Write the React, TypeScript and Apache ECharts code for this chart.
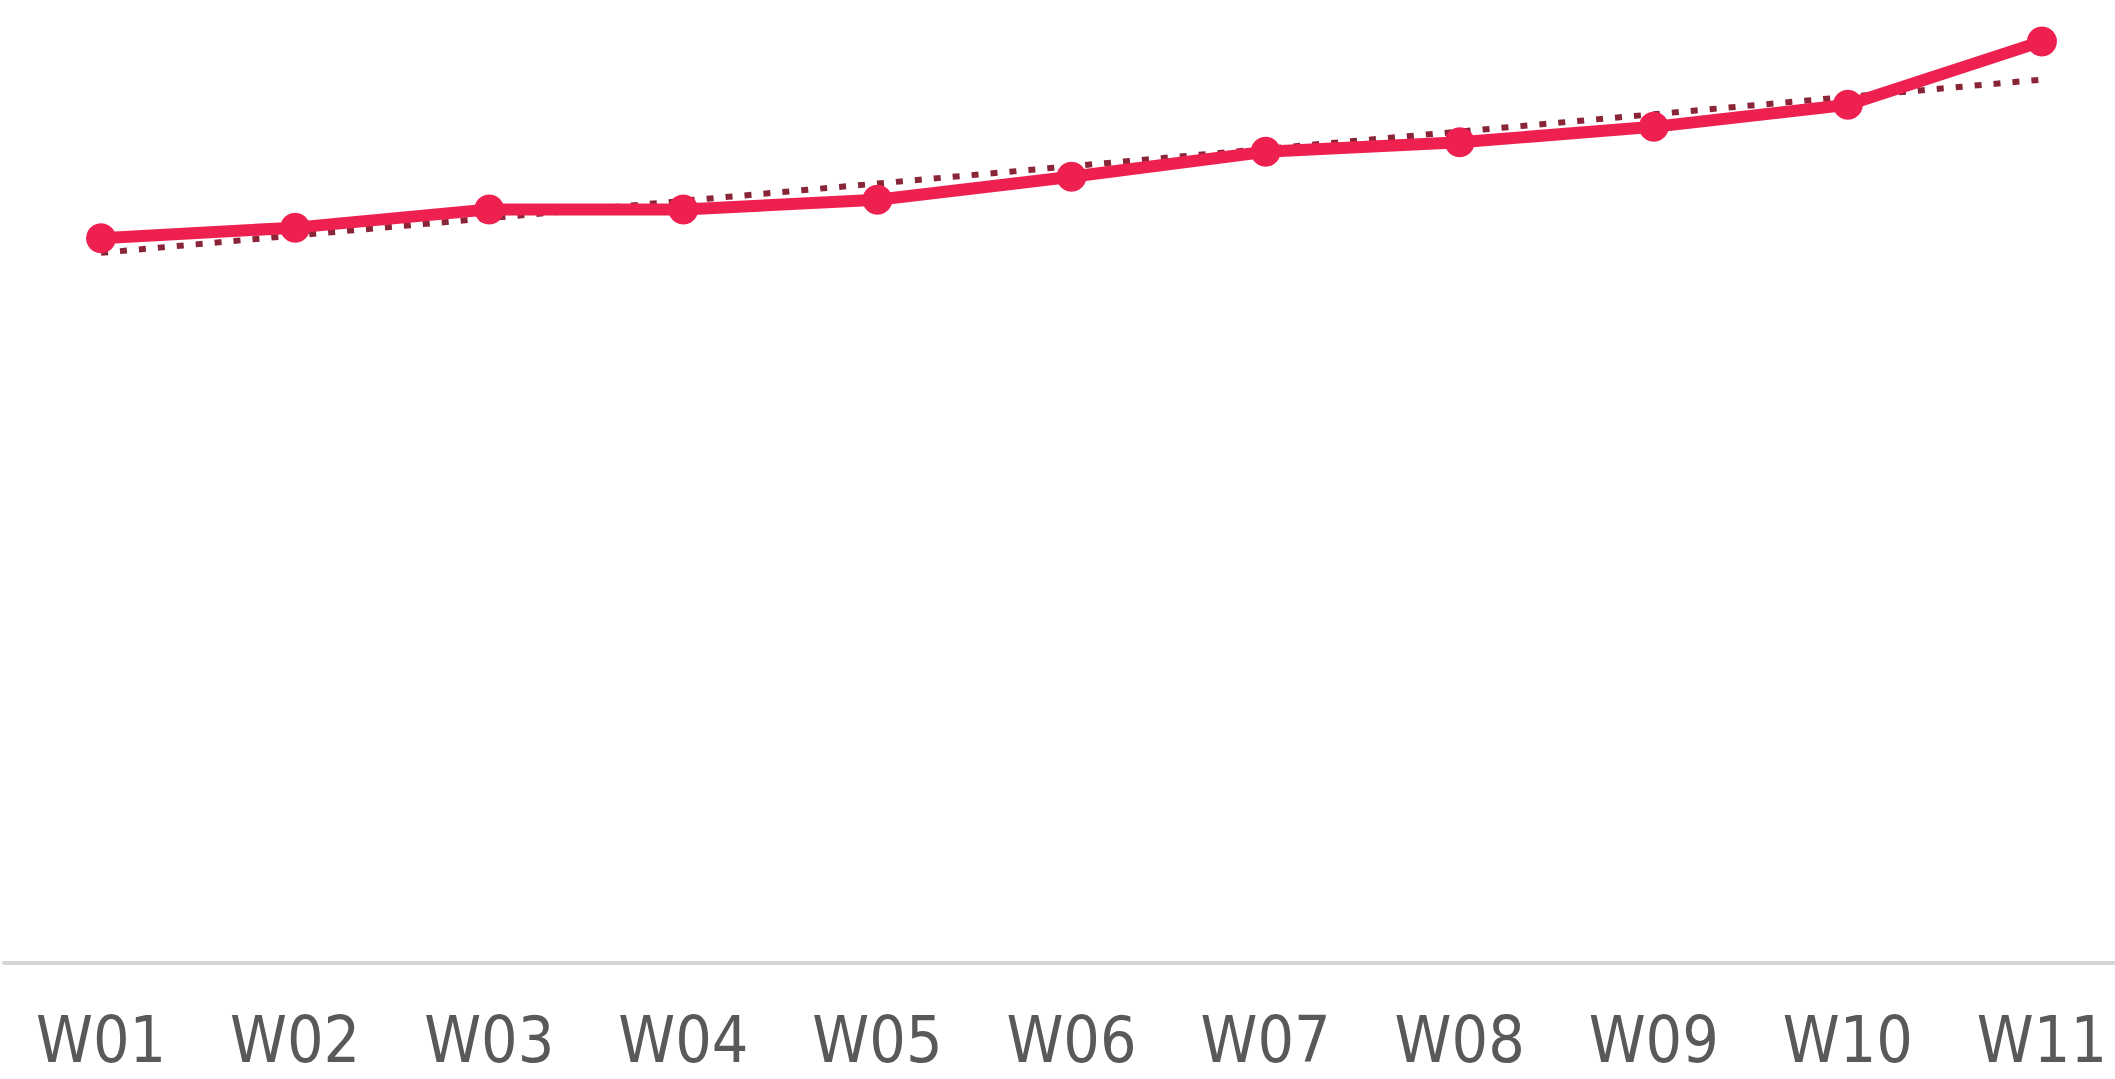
import React, { useEffect, useRef } from "react";
import * as echarts from "echarts";

// Weekly index with a linear trendline
const weeks = ["W01", "W02", "W03", "W04", "W05", "W06", "W07", "W08", "W09", "W10", "W11"];
const values = [75.5, 76.6, 78.5, 78.5, 79.5, 81.9, 84.5, 85.5, 87.1, 89.4, 96.0];

// Least-squares fit over the week index, evaluated at each week
function linearTrend(ys: number[]): number[] {
  const n = ys.length;
  const mx = (n - 1) / 2;
  const my = ys.reduce((a, b) => a + b, 0) / n;
  let sxy = 0;
  let sxx = 0;
  ys.forEach((y, i) => {
    sxy += (i - mx) * (y - my);
    sxx += (i - mx) * (i - mx);
  });
  const slope = sxy / sxx;
  return ys.map((_, i) => +(my + slope * (i - mx)).toFixed(3));
}

export default function App() {
  const ref = useRef<HTMLDivElement>(null);

  useEffect(() => {
    if (!ref.current) return;
    const chart = echarts.init(ref.current, null, { renderer: "svg" });
    chart.setOption({
      animation: false,
      backgroundColor: "#ffffff",
      grid: {
        left: 4,
        right: -24,
        top: 3,
        bottom: 116,
        containLabel: false,
        outerBoundsMode: "none",
      },
      xAxis: {
        type: "category",
        data: weeks,
        boundaryGap: true,
        axisLine: { show: true, lineStyle: { color: "#d6d6d6", width: 4 } },
        axisTick: { show: false },
        axisLabel: {
          color: "#595959",
          fontSize: 64,
          lineHeight: 62,
          fontFamily: "'DejaVu Sans Condensed', Lato, 'Noto Sans', sans-serif",
          margin: 46,
        },
        splitLine: { show: false },
      },
      yAxis: {
        type: "value",
        min: 0,
        max: 100,
        show: false,
        splitLine: { show: false },
      },
      series: [
        {
          name: "Trend",
          type: "line",
          data: linearTrend(values),
          symbol: "none",
          z: 1,
          lineStyle: { color: "#8a2538", width: 6, type: [7, 12], cap: "butt" },
        },
        {
          name: "Index",
          type: "line",
          data: values,
          symbol: "circle",
          symbolSize: 30,
          z: 2,
          itemStyle: { color: "#ee2050" },
          lineStyle: { color: "#ee2050", width: 12 },
        },
      ],
    });
    return () => chart.dispose();
  }, []);

  return (
    <div
      ref={ref}
      style={{ position: "fixed", left: 0, top: 0, width: 2115, height: 1079 }}
    />
  );
}
